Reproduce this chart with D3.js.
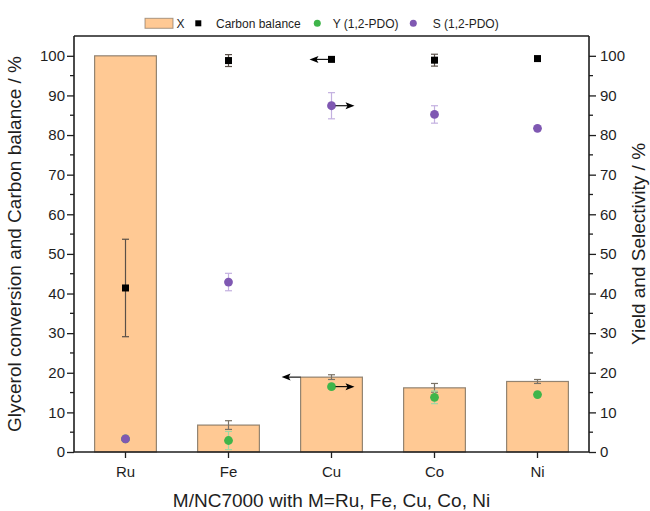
<!DOCTYPE html>
<html>
<head>
<meta charset="utf-8">
<script src="https://cdn.jsdelivr.net/npm/d3@7"></script>
<style>
  html, body { margin: 0; padding: 0; background: #fff; }
  svg { display: block; font-family: "Liberation Sans", Arial, sans-serif; }
</style>
</head>
<body>
<svg id="chart" width="650" height="511"></svg>
<script>
// Catalysts
const catalysts = ["Ru", "Fe", "Cu", "Co", "Ni"];

// Glycerol conversion X (%) with error
const conversion = [100, 6.8, 18.9, 16.2, 17.8];
const conversionErr = [0, 1.1, 0.6, 1.1, 0.5];

// Carbon balance (%) with error
const carbonBalance = [41.4, 98.8, 99.1, 98.9, 99.3];
const carbonBalanceErr = [12.3, 1.5, 0.3, 1.5, 0.3];

// Yield of 1,2-PDO (%) with error
const yieldPDO = [3.3, 2.9, 16.5, 13.8, 14.5];
const yieldPDOErr = [0.3, 2.3, 0.5, 1.6, 0.3];

// Selectivity to 1,2-PDO (%) with error
const selectPDO = [3.3, 42.9, 87.4, 85.2, 81.7];
const selectPDOErr = [0.4, 2.2, 3.3, 2.2, 0.3];

// Axis ticks and titles
const yTicks = [0, 10, 20, 30, 40, 50, 60, 70, 80, 90, 100];
const yMinorTicks = [5, 15, 25, 35, 45, 55, 65, 75, 85, 95];
const leftTitle = "Glycerol conversion and Carbon balance / %";
const rightTitle = "Yield and Selectivity / %";
const bottomTitle = "M/NC7000 with M=Ru, Fe, Cu, Co, Ni";
const legendItems = [
  { key: "bar", label: "X" },
  { key: "square", label: "Carbon balance" },
  { key: "green", label: "Y (1,2-PDO)" },
  { key: "purple", label: "S (1,2-PDO)" }
];

const colors = {
  bar: "#ffc994",
  barStroke: "#6f6353",
  barErr: "#7a7266",
  square: "#000000",
  squareErr: "#5a5048",
  green: "#3fb54a",
  greenErr: "#9fd8a4",
  purple: "#7f58b2",
  purpleErr: "#c3b0e0",
  axis: "#1e1e1e",
  text: "#1e1e1e"
};

const svg = d3.select("#chart");
const plotLeft = 74, plotRight = 589, plotTop = 36, plotBottom = 452;

const x = d3.scaleBand().domain(catalysts).range([plotLeft, plotRight])
  .paddingInner(0.4).paddingOuter(0.2);
const yL = d3.scaleLinear().domain([0, 105]).range([plotBottom, plotTop]);
const yR = d3.scaleLinear().domain([0, 105]).range([plotBottom, plotTop]);
const cx = c => x(c) + x.bandwidth() / 2;

const plot = svg.append("g");

// Conversion bars
plot.selectAll("rect.bar").data(catalysts).join("rect")
  .attr("class", "bar")
  .attr("x", c => x(c))
  .attr("width", x.bandwidth())
  .attr("y", (c, i) => yL(conversion[i]))
  .attr("height", (c, i) => yL(0) - yL(conversion[i]))
  .attr("fill", colors.bar)
  .attr("stroke", colors.barStroke)
  .attr("stroke-opacity", 0.75)
  .attr("stroke-width", 1.2);

// generic error bar drawer
function errorBars(values, errs, scale, color, width, sw) {
  const g = plot.append("g").attr("stroke", color).attr("stroke-width", sw).attr("fill", "none");
  catalysts.forEach((c, i) => {
    if (!errs[i]) return;
    const xc = cx(c), y1 = scale(values[i] + errs[i]), y0 = scale(values[i] - errs[i]);
    g.append("line").attr("x1", xc).attr("x2", xc).attr("y1", y1).attr("y2", y0);
    g.append("line").attr("x1", xc - width / 2).attr("x2", xc + width / 2).attr("y1", y1).attr("y2", y1);
    g.append("line").attr("x1", xc - width / 2).attr("x2", xc + width / 2).attr("y1", y0).attr("y2", y0);
  });
}

errorBars(conversion, conversionErr, yL, colors.barErr, 7, 1.2);

// Carbon balance squares
errorBars(carbonBalance, carbonBalanceErr, yL, colors.squareErr, 7, 1.2);
const sq = 7;
plot.selectAll("rect.cb").data(catalysts).join("rect")
  .attr("class", "cb")
  .attr("x", c => cx(c) - sq / 2)
  .attr("y", (c, i) => yL(carbonBalance[i]) - sq / 2)
  .attr("width", sq).attr("height", sq)
  .attr("fill", colors.square);

// Yield dots
errorBars(yieldPDO, yieldPDOErr, yR, colors.greenErr, 7, 1.2);
plot.selectAll("circle.yield").data(catalysts).join("circle")
  .attr("class", "yield")
  .attr("cx", cx)
  .attr("cy", (c, i) => yR(yieldPDO[i]))
  .attr("r", 4.4)
  .attr("fill", colors.green);

// Selectivity dots
errorBars(selectPDO, selectPDOErr, yR, colors.purpleErr, 7, 1.2);
plot.selectAll("circle.sel").data(catalysts).join("circle")
  .attr("class", "sel")
  .attr("cx", cx)
  .attr("cy", (c, i) => yR(selectPDO[i]))
  .attr("r", 4.4)
  .attr("fill", colors.purple);

// Arrows pointing at the axis each series belongs to (on the Cu group)
const arrowG = plot.append("g");
function arrow(x0, x1, y) {
  const dir = Math.sign(x1 - x0);
  arrowG.append("line").attr("x1", x0).attr("x2", x1 - dir * 6).attr("y1", y).attr("y2", y)
    .attr("stroke", "#000").attr("stroke-width", 1.1);
  arrowG.append("path")
    .attr("d", `M${x1},${y} L${x1 - dir * 9},${y - 3.5} L${x1 - dir * 7},${y} L${x1 - dir * 9},${y + 3.5} Z`)
    .attr("fill", "#000");
}
const cuIdx = catalysts.indexOf("Cu");
const cuX = cx("Cu");
arrow(cuX - sq / 2, cuX - 22, yL(carbonBalance[cuIdx]));
arrow(cuX + 4, cuX + 23, yR(selectPDO[cuIdx]));
arrow(x("Cu"), x("Cu") - 19, yL(conversion[cuIdx]));
arrow(cuX + 4, cuX + 23, yR(yieldPDO[cuIdx]));

// Axes
const axG = svg.append("g");

const leftAxis = axG.append("g").attr("transform", `translate(${plotLeft},0)`)
  .call(d3.axisLeft(yL).tickValues(yTicks).tickSize(7).tickSizeOuter(0).tickPadding(2));
axG.append("g").selectAll("line").data(yMinorTicks).join("line")
  .attr("x1", plotLeft - 4).attr("x2", plotLeft).attr("y1", d => yL(d)).attr("y2", d => yL(d))
  .attr("stroke", colors.axis).attr("stroke-width", 1.3);

const rightAxis = axG.append("g").attr("transform", `translate(${plotRight},0)`)
  .call(d3.axisRight(yR).tickValues(yTicks).tickSize(7).tickSizeOuter(0).tickPadding(4));
axG.append("g").selectAll("line").data(yMinorTicks).join("line")
  .attr("x1", plotRight).attr("x2", plotRight + 4).attr("y1", d => yR(d)).attr("y2", d => yR(d))
  .attr("stroke", colors.axis).attr("stroke-width", 1.3);

const bottomAxis = axG.append("g").attr("transform", `translate(0,${plotBottom})`)
  .call(d3.axisBottom(x).tickSize(6).tickSizeOuter(0).tickPadding(8));

// top frame line
axG.append("line").attr("x1", plotLeft).attr("x2", plotRight).attr("y1", plotTop).attr("y2", plotTop)
  .attr("stroke", colors.axis).attr("stroke-width", 1.6);

[leftAxis, rightAxis, bottomAxis].forEach(a => {
  a.attr("font-family", "'Liberation Sans', Arial, sans-serif");
  a.select(".domain").attr("stroke", colors.axis).attr("stroke-width", 1.6);
  a.selectAll(".tick line").attr("stroke", colors.axis).attr("stroke-width", 1.3);
  a.selectAll(".tick text").attr("fill", colors.text).attr("font-size", 15);
});
leftAxis.select(".domain").attr("d", `M0,${plotBottom}V${plotTop}`);
rightAxis.select(".domain").attr("d", `M0,${plotBottom}V${plotTop}`);
bottomAxis.select(".domain").attr("d", `M${plotLeft},0H${plotRight}`);

// Axis titles
const midY = (plotTop + plotBottom) / 2;
svg.append("text")
  .attr("transform", `translate(21,${midY}) rotate(-90)`)
  .attr("text-anchor", "middle")
  .attr("font-size", 19).attr("fill", colors.text)
  .text(leftTitle);
svg.append("text")
  .attr("transform", `translate(645,${midY}) rotate(-90)`)
  .attr("text-anchor", "middle")
  .attr("font-size", 19).attr("fill", colors.text)
  .text(rightTitle);
svg.append("text")
  .attr("x", (plotLeft + plotRight) / 2).attr("y", 507)
  .attr("text-anchor", "middle")
  .attr("font-size", 19).attr("fill", colors.text)
  .text(bottomTitle);

// Legend
const legend = svg.append("g").attr("font-size", 12).attr("fill", colors.text);
const ly = 23.3;
const legendPos = [
  { sx: 145, tx: 176.5 },
  { sx: 198.3, tx: 216 },
  { sx: 317.3, tx: 332.7 },
  { sx: 413.3, tx: 432.7 }
];
legendItems.forEach((item, i) => {
  const p = legendPos[i];
  if (item.key === "bar") {
    legend.append("rect").attr("x", p.sx).attr("y", ly - 5).attr("width", 28).attr("height", 10)
      .attr("fill", colors.bar).attr("stroke", colors.barStroke).attr("stroke-opacity", 0.6).attr("stroke-width", 1);
  } else if (item.key === "square") {
    legend.append("rect").attr("x", p.sx - 3).attr("y", ly - 3).attr("width", 6).attr("height", 6)
      .attr("fill", colors.square);
  } else {
    legend.append("circle").attr("cx", p.sx).attr("cy", ly).attr("r", 3.5)
      .attr("fill", colors[item.key]);
  }
  legend.append("text").attr("x", p.tx).attr("y", ly).attr("dy", "0.36em").text(item.label);
});
</script>
</body>
</html>
